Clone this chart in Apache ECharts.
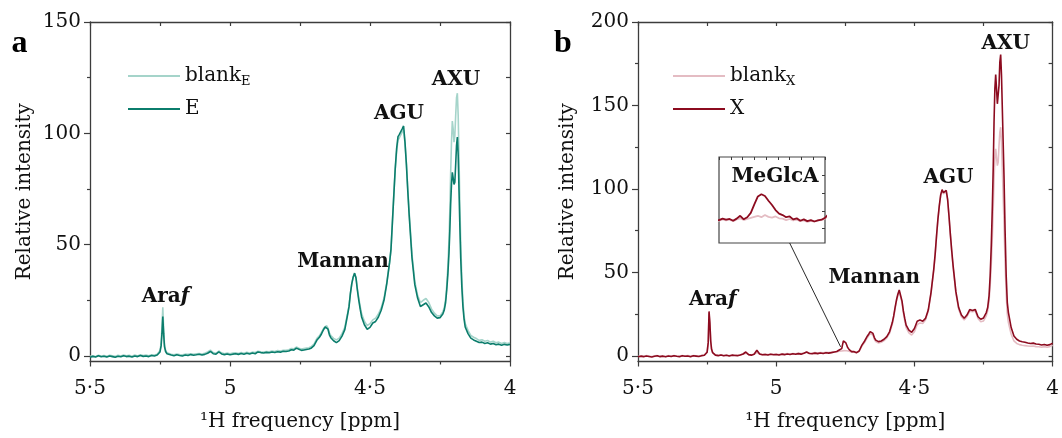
<!DOCTYPE html>
<html><head><meta charset="utf-8">
<script src="https://cdn.jsdelivr.net/npm/echarts@6/dist/echarts.min.js"></script>
<style>html,body{margin:0;padding:0;background:#fff}#c{width:1062px;height:438px}</style>
</head><body><div id="c"></div>
<script>
// chemical shift grid (ppm)
const ppm = [
 5.5,5.49,5.48,5.47,5.46,5.45,5.44,5.43,5.42,5.41,5.4,5.39,5.38,5.37,5.36,5.35,5.34,5.33,5.32,5.31,5.3,5.29,5.28,5.27,5.26,
 5.255,5.25,5.246,5.243,5.24,5.237,5.234,5.23,5.225,5.22,
 5.21,5.2,5.19,5.18,5.17,5.16,5.15,5.14,5.13,5.12,5.11,5.1,5.09,5.08,5.07,5.06,5.05,5.04,5.03,5.02,5.01,5,4.99,4.98,4.97,4.96,4.95,4.94,4.93,4.92,4.91,4.9,4.89,4.88,4.87,4.86,4.85,4.84,4.83,4.82,4.81,4.8,
 4.79,4.787,4.784,4.781,4.778,4.775,4.772,4.769,4.766,4.763,4.76,4.757,4.754,4.751,4.748,4.745,4.742,4.739,4.736,4.733,4.73,4.727,4.724,4.721,4.718,4.715,4.712,4.709,4.706,4.703,4.7,
 4.69,4.68,4.675,4.67,4.665,4.66,4.655,4.65,4.645,4.64,4.63,4.62,4.61,4.6,4.59,4.58,4.575,4.57,4.565,4.56,4.555,4.55,4.545,4.54,4.535,4.53,4.52,4.51,4.5,4.49,4.48,4.47,4.46,4.45,4.44,4.43,4.425,4.42,4.415,4.41,4.405,4.4,4.395,4.39,4.385,4.38,4.375,4.37,4.365,4.36,4.35,4.34,4.33,4.32,4.31,4.3,4.29,4.28,4.27,4.26,4.25,4.24,
 4.235,4.23,4.226,4.222,4.218,4.215,4.212,4.209,4.206,4.203,4.2,4.197,4.194,4.191,4.188,4.185,4.182,4.179,4.176,4.172,4.168,4.164,4.16,
 4.15,4.14,4.13,4.12,4.11,4.1,4.09,4.08,4.07,4.06,4.05,4.04,4.03,4.02,4.01,4
];
const blankE = [
 -0.2,0.1,-0.3,0.3,0.0,0.2,-0.2,0.3,0.1,-0.2,0.3,0.0,0.4,0.1,0.3,-0.1,0.4,0.0,0.5,0.2,0.4,0.1,0.5,0.4,0.8,
 1.2,2.4,5.8,13,21.9,12.5,5.2,2.6,1.4,0.9,
 0.8,0.5,0.9,0.6,0.5,0.8,0.7,1.0,0.7,1.0,1.1,0.9,1.2,1.8,2.6,1.5,1.2,2.2,1.4,1.0,1.3,1.0,1.3,1.4,1.1,1.5,1.2,1.6,1.3,1.7,1.5,2.1,1.9,1.8,2.0,1.9,2.2,2.0,2.4,2.2,2.5,2.5,
 2.8,3.1,2.7,3.3,3.0,3.6,3.2,3.8,3.4,4.0,3.6,3.3,3.5,3.2,3.4,3.1,3.4,3.6,3.3,3.6,3.8,3.5,3.8,4.1,3.7,4.0,4.4,4.3,4.7,5.0,5.3,
 7.8,9.2,10.2,11.4,12.5,13.3,13.6,12.5,10.4,9.2,7.9,7.2,8.0,10.0,12.8,19.2,22.5,28.2,32.5,35.3,37.0,35.2,30.2,26.0,22.3,19.0,15.6,13.6,14.5,16.2,17.0,18.8,21.6,26.0,33.0,42.0,47.5,60.0,72.5,83.5,91.5,97.0,98.0,98.8,100.5,101.5,95.5,86.5,75.0,64.5,45.5,33.5,27.2,24.0,25.0,25.8,24.0,21.0,19.2,18.0,18.0,19.8,
 21.5,25.5,31.5,40.0,52.0,65.0,82.0,96.0,105.5,102.0,96.0,99.0,108.0,116.0,118.0,108.0,88.0,68.0,51.0,35.0,24.5,18.0,14.5,
 11.5,9.2,8.4,7.8,7.0,7.3,6.6,6.9,6.2,6.6,5.9,6.2,5.6,6.0,5.6,5.9
];
const sampleE = [
 -0.6,-0.2,-0.5,0.1,-0.4,-0.1,-0.5,0.0,-0.3,-0.6,-0.1,-0.4,0.1,-0.3,-0.1,-0.5,0.0,-0.3,0.2,-0.2,0.0,-0.3,0.2,0.0,0.4,
 0.8,1.8,4.5,10,17.7,10,4.2,2.0,1.0,0.6,
 0.4,0.1,0.5,0.2,0.0,0.4,0.2,0.6,0.3,0.5,0.8,0.4,0.7,1.2,2.0,1.0,0.8,1.8,0.9,0.6,0.9,0.5,0.8,1.0,0.7,1.1,0.8,1.2,0.9,1.3,1.0,1.8,1.5,1.3,1.6,1.4,1.8,1.5,1.9,1.7,2.1,2.0,
 2.2,2.6,2.1,2.8,2.4,3.0,2.6,3.2,2.8,3.5,3.1,2.7,3.0,2.6,2.9,2.5,2.8,3.1,2.7,3.0,3.3,2.9,3.2,3.5,3.1,3.4,3.8,3.6,4.0,4.3,4.6,
 7.0,8.5,9.5,10.8,12.0,13.0,13.5,12.0,9.5,8.2,6.8,6.0,6.9,8.9,11.8,18.5,22.0,28.0,32.5,35.5,37.2,35.0,29.5,25.0,21.0,17.5,14.0,12.0,12.8,14.8,15.5,17.5,20.5,25.0,32.5,42.0,48.0,60.0,72.0,84.0,93.0,98.5,99.5,100.0,102.0,103.3,96.0,86.0,74.0,63.0,44.0,32.0,26.0,22.2,23.0,23.8,22.0,19.5,18.0,17.0,17.2,18.8,
 20.5,24.0,29.5,36.5,46.0,56.0,68.0,77.0,82.5,80.0,77.0,78.0,86.0,94.5,98.3,90.0,74.0,58.0,44.0,31.0,22.0,16.5,13.0,
 10.0,8.0,7.2,6.6,6.0,6.2,5.6,5.9,5.3,5.6,5.0,5.3,4.8,5.2,4.9,5.2
];
const blankX = [
 -0.3,0.0,-0.2,0.2,-0.1,-0.3,0.1,0.2,-0.2,0.1,-0.3,0.2,-0.1,0.3,0.0,-0.2,0.3,0.0,0.2,-0.1,0.3,0.1,0.0,0.3,0.5,
 0.9,2.3,8,25.5,19.5,9,4.3,2.2,1.1,0.7,
 0.4,0.7,0.3,0.6,0.3,0.6,0.5,0.4,0.7,1.0,1.6,0.9,0.7,1.0,2.0,1.1,0.8,1.1,0.9,1.2,1.0,1.1,0.9,1.3,1.1,1.4,1.2,1.5,1.3,1.6,1.4,1.8,2.2,1.8,1.7,2.0,1.8,2.1,1.9,2.2,2.1,2.4,
 2.2,2.6,2.3,2.5,2.1,2.6,2.9,2.4,2.7,3.0,3.3,3.6,3.2,3.8,3.3,3.1,3.4,2.9,2.8,2.4,2.7,2.3,2.5,2.1,2.3,1.9,2.2,2.0,2.3,2.4,2.8,
 6.0,8.2,9.6,11.0,12.2,13.4,14.0,12.5,10.0,8.6,7.8,8.2,9.2,10.8,13.6,19.0,23.2,28.2,32.8,36.2,38.5,38.0,32.0,25.8,21.0,17.0,13.8,12.5,14.5,18.8,19.8,19.5,21.5,26.8,37.5,51.5,60.5,71.5,81.5,89.5,96.0,99.0,97.0,97.5,98.5,93.5,83.5,72.5,62.0,53.0,37.5,28.0,23.5,21.6,23.5,26.8,26.5,27.0,22.5,20.5,21.0,24.0,
 27.0,33.0,42.0,55.0,72.0,88.0,106.0,118.0,124.0,119.0,114.0,116.0,126.0,134.0,137.0,128.0,112.0,96.0,80.0,56.0,37.0,25.0,20.0,
 13.0,9.0,7.5,6.8,6.4,6.2,6.0,5.8,6.0,5.6,5.5,5.2,5.6,5.2,5.6,6.4
];
const sampleX = [
 -0.5,-0.1,-0.4,0.0,-0.3,-0.6,-0.2,0.1,-0.4,-0.1,-0.5,0.0,-0.3,0.2,-0.2,-0.4,0.1,-0.2,0.0,-0.4,0.1,-0.1,-0.3,0.2,0.4,
 0.8,2.2,8,26.7,20,9,4.2,2.0,1.0,0.5,
 0.2,0.6,0.1,0.4,0.0,0.5,0.3,0.2,0.6,1.2,2.4,0.8,0.5,1.0,3.4,1.2,0.7,0.9,0.6,1.0,0.7,0.9,0.6,1.1,0.8,1.2,0.9,1.3,1.0,1.4,1.1,1.6,2.4,1.5,1.3,1.7,1.4,1.8,1.5,1.9,1.7,2.0,
 2.4,2.8,2.5,2.7,2.2,2.8,3.6,2.6,3.2,4.4,6.8,9.0,9.6,9.1,7.8,6.6,5.2,4.2,3.8,3.2,3.4,2.6,2.9,2.2,2.6,2.1,2.4,2.0,2.3,2.5,3.0,
 6.5,9.0,10.6,12.0,13.2,14.6,15.2,13.5,11.0,9.5,8.6,9.0,10.0,11.6,14.5,20.0,24.0,29.0,33.5,37.0,39.5,39.0,33.0,27.0,22.5,18.5,15.5,14.2,16.5,20.8,21.5,20.8,22.5,27.5,38.0,52.0,61.0,72.0,82.0,90.0,96.5,99.6,97.8,98.0,99.2,94.0,84.0,73.0,63.0,54.0,38.5,29.0,24.5,22.6,24.5,27.8,27.2,27.9,23.5,22.0,22.8,26.0,
 29.0,36.0,48.0,66.0,90.0,112.0,140.0,160.0,168.5,160.0,151.0,150.0,162.0,176.0,180.5,168.0,148.0,128.0,108.0,75.0,48.0,32.0,26.0,
 17.0,12.0,10.0,9.0,8.5,8.2,7.8,7.5,7.7,7.2,7.0,6.6,6.9,6.4,6.8,7.6
];
const yLabelsA = [0, 50, 100, 150];
const yMinorA = [25, 75, 125];
const yRightA = [0, 25, 50, 75, 100, 125, 150];
const yLabelsB = [0, 50, 100, 150, 200];
const yMinorB = [25, 75, 125, 175];
const yRightB = [0, 25, 50, 75, 100, 125, 150, 175, 200];
const insetTicksY = [0, 5, 10, 15];

const F = '"DejaVu Serif", "Liberation Serif", serif';
const AX = '#3c3c3c';
const TXT = '#111';
const cE = '#0b7d6c', cBE = '#a5d4ca', cX = '#8c0b1f', cBX = '#e4bcc3';
const lbl = v => String(v).replace('.', '\u00B7');

function xBottom(gi) {
  return { gridIndex: gi, type: 'value', min: 4, max: 5.5, interval: 0.5, inverse: true, position: 'bottom',
    axisLine: { show: true, onZero: false, lineStyle: { color: AX, width: 1.3 } },
    axisTick: { show: true, inside: false, length: 5, lineStyle: { color: AX, width: 1.2 } },
    minorTick: { show: true, splitNumber: 2, length: 3, lineStyle: { color: AX, width: 1.2 } },
    axisLabel: { show: true, margin: 17, formatter: lbl, fontFamily: F, fontSize: 20, color: TXT },
    splitLine: { show: false },
    name: '\u00B9H frequency [ppm]', nameLocation: 'middle', nameGap: 50,
    nameTextStyle: { fontFamily: F, fontSize: 20, color: TXT } };
}
function xTop(gi) {
  return { gridIndex: gi, type: 'value', min: 4, max: 5.5, interval: 0.25, inverse: true, position: 'top',
    axisLine: { show: true, onZero: false, lineStyle: { color: AX, width: 1.3 } },
    axisTick: { show: true, inside: true, length: 4, lineStyle: { color: AX, width: 1.2 } },
    axisLabel: { show: false }, splitLine: { show: false } };
}
function yLeft(gi, min, max, ticks, gap) {
  return { gridIndex: gi, type: 'value', min: min, max: max, position: 'left',
    axisLine: { show: true, onZero: false, lineStyle: { color: AX, width: 1.3 } },
    axisTick: { show: true, inside: false, length: 6, customValues: ticks, lineStyle: { color: AX, width: 1.2 } },
    axisLabel: { show: true, customValues: ticks, margin: 9, fontFamily: F, fontSize: 20, color: TXT },
    splitLine: { show: false },
    name: 'Relative intensity', nameLocation: 'middle', nameRotate: 90, nameGap: gap,
    nameTextStyle: { fontFamily: F, fontSize: 20, color: TXT } };
}
function yMinor(gi, min, max, ticks) {
  return { gridIndex: gi, type: 'value', min: min, max: max, position: 'left',
    axisLine: { show: false, onZero: false },
    axisTick: { show: true, inside: false, length: 3, customValues: ticks, lineStyle: { color: AX, width: 1.2 } },
    axisLabel: { show: false }, splitLine: { show: false } };
}
function yRight(gi, min, max, ticks) {
  return { gridIndex: gi, type: 'value', min: min, max: max, position: 'right',
    axisLine: { show: true, onZero: false, lineStyle: { color: AX, width: 1.3 } },
    axisTick: { show: true, inside: true, length: 4, customValues: ticks, lineStyle: { color: AX, width: 1.2 } },
    axisLabel: { show: false }, splitLine: { show: false } };
}
function ser(name, arr, xi, yi, color, z, w) {
  return { name: name, type: 'line', xAxisIndex: xi, yAxisIndex: yi,
    data: ppm.map((p, i) => [p, arr[i]]), showSymbol: false, symbol: 'none',
    lineStyle: { color: color, width: w || 1.6 }, itemStyle: { color: color }, z: z, silent: true, animation: false };
}
const richLegend = {
  m: { fontFamily: F, fontSize: 20, color: TXT, lineHeight: 24 },
  s: { fontFamily: F, fontSize: 13, color: TXT, lineHeight: 8, verticalAlign: 'bottom' }
};
function legendFmt(n) {
  if (n.indexOf('blank') === 0) return '{m|blank}{s|' + n.slice(5) + '}';
  return '{m|' + n + '}';
}
function legend(names, left) {
  return { data: names, orient: 'vertical', left: left, top: 61, itemWidth: 52, itemHeight: 2, itemGap: 11,
    icon: 'rect', formatter: legendFmt, selectedMode: false,
    textStyle: { fontFamily: F, fontSize: 20, color: TXT, rich: richLegend } };
}

const chart = echarts.init(document.getElementById('c'));
chart.setOption({
  animation: false,
  backgroundColor: '#fff',
  grid: [
    { left: 90, top: 22, width: 420, height: 339.5 },
    { left: 638, top: 22, width: 420, height: 339.5 },
    { left: 719, top: 157, width: 106, height: 86, show: true, backgroundColor: '#fff', borderColor: '#444', borderWidth: 1.2 }
  ],
  xAxis: [
    xBottom(0), xTop(0), xBottom(1), xTop(1),
    { gridIndex: 2, type: 'value', min: 4.70, max: 4.79, inverse: true, show: false },
    { gridIndex: 2, type: 'value', min: 4.70, max: 4.79, interval: 0.01, inverse: true, position: 'top',
      axisLine: { show: false, onZero: false }, axisTick: { show: true, inside: true, length: 3, lineStyle: { color: AX } },
      axisLabel: { show: false }, splitLine: { show: false } }
  ],
  yAxis: [
    yLeft(0, -2.5, 150, yLabelsA, 55), yMinor(0, -2.5, 150, yMinorA), yRight(0, -2.5, 150, yRightA),
    yLeft(1, -3.3, 200, yLabelsB, 60), yMinor(1, -3.3, 200, yMinorB), yRight(1, -3.3, 200, yRightB),
    { gridIndex: 2, type: 'value', min: -4, max: 20, show: false },
    { gridIndex: 2, type: 'value', min: -4, max: 20, position: 'right',
      axisLine: { show: false, onZero: false }, axisTick: { show: true, inside: true, length: 3, customValues: insetTicksY, lineStyle: { color: AX } },
      axisLabel: { show: false }, splitLine: { show: false } }
  ],
  legend: [ legend(['blankE', 'E'], 123), legend(['blankX', 'X'], 668) ],
  series: [
    ser('blankE', blankE, 0, 0, cBE, 2),
    ser('E', sampleE, 0, 0, cE, 3),
    ser('blankX', blankX, 2, 3, cBX, 2),
    ser('X', sampleX, 2, 3, cX, 3),
    ser('blankX inset', blankX, 4, 6, cBX, 4, 1.8),
    ser('X inset', sampleX, 4, 6, cX, 5, 1.8)
  ]
});

// annotations
const bold20 = { fontFamily: F, fontSize: 20, fontWeight: 'bold' };
function label(text, x, y) {
  return { type: 'text', x: x, y: y, z: 100,
    style: { text: text, fill: TXT, align: 'center', verticalAlign: 'middle', font: 'bold 20px ' + F,
      rich: { r: Object.assign({ fill: TXT }, bold20), i: Object.assign({ fill: TXT, fontStyle: 'italic' }, bold20) } } };
}
const p0 = chart.convertToPixel({ xAxisIndex: 4, yAxisIndex: 6 }, [4.73, -4]);
const p1 = chart.convertToPixel({ xAxisIndex: 2, yAxisIndex: 3 }, [4.767, 5.5]);
chart.setOption({
  graphic: [
    label('{r|Ara}{i|f}', 165.5, 297), label('Mannan', 343, 262), label('AGU', 399, 114), label('AXU', 456, 80),
    label('{r|Ara}{i|f}', 712.8, 299.5), label('Mannan', 874.3, 278), label('AGU', 948.4, 178), label('AXU', 1005.8, 43.4),
    label('MeGlcA', 775, 176.4),
    { type: 'text', x: 19.4, y: 44, z: 100, style: { text: 'a', fill: '#000', align: 'center', verticalAlign: 'middle', font: 'bold 32px "Liberation Serif", serif' } },
    { type: 'text', x: 563, y: 43.4, z: 100, style: { text: 'b', fill: '#000', align: 'center', verticalAlign: 'middle', font: 'bold 32px "Liberation Serif", serif' } },
    { type: 'line', z: 50, shape: { x1: p0[0], y1: p0[1], x2: p1[0], y2: p1[1] }, style: { stroke: '#111', lineWidth: 0.9 } }
  ]
});
</script>
</body></html>
